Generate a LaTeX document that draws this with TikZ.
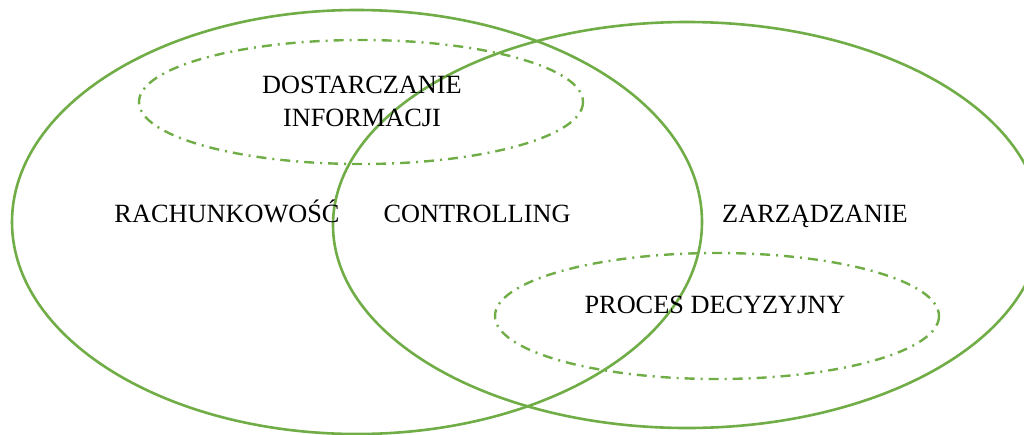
\documentclass[tikz,border=0pt]{standalone}
\usepackage{fontspec}
\setmainfont{Liberation Serif}
\definecolor{vgreen}{HTML}{70AD47}
\begin{document}
\begin{tikzpicture}[x=1pt,y=-1pt,
  big/.style={draw=vgreen,line width=2.6pt},
  sub/.style={draw=vgreen,line width=2.4pt,dash pattern=on 10pt off 6pt on 2pt off 6pt},
  lbl/.style={font=\fontsize{26.3}{33}\selectfont,inner sep=0pt,text=black}]
\useasboundingbox (0,0) rectangle (1024,434);
\begin{scope}
\clip (0,0) rectangle (1024,434);
\draw[big] (357,222) ellipse [x radius=345, y radius=212];
\draw[big] (687,225) ellipse [x radius=354, y radius=203];
\draw[sub] (361,102) ellipse [x radius=222, y radius=62];
\draw[sub] (717,316) ellipse [x radius=222, y radius=63];
\end{scope}
\node[lbl,align=center] (info) at (362,101) {DOSTARCZANIE\\INFORMACJI};
\node[lbl,anchor=base] (rach) at (227,222) {RACHUNKOWOŚĆ};
\node[lbl,anchor=base] (ctrl) at (477,222) {CONTROLLING};
\node[lbl,anchor=base] (zarz) at (815,222) {ZARZĄDZANIE};
\node[lbl,anchor=base] (proc) at (715,313) {PROCES DECYZYJNY};
\end{tikzpicture}
\end{document}
